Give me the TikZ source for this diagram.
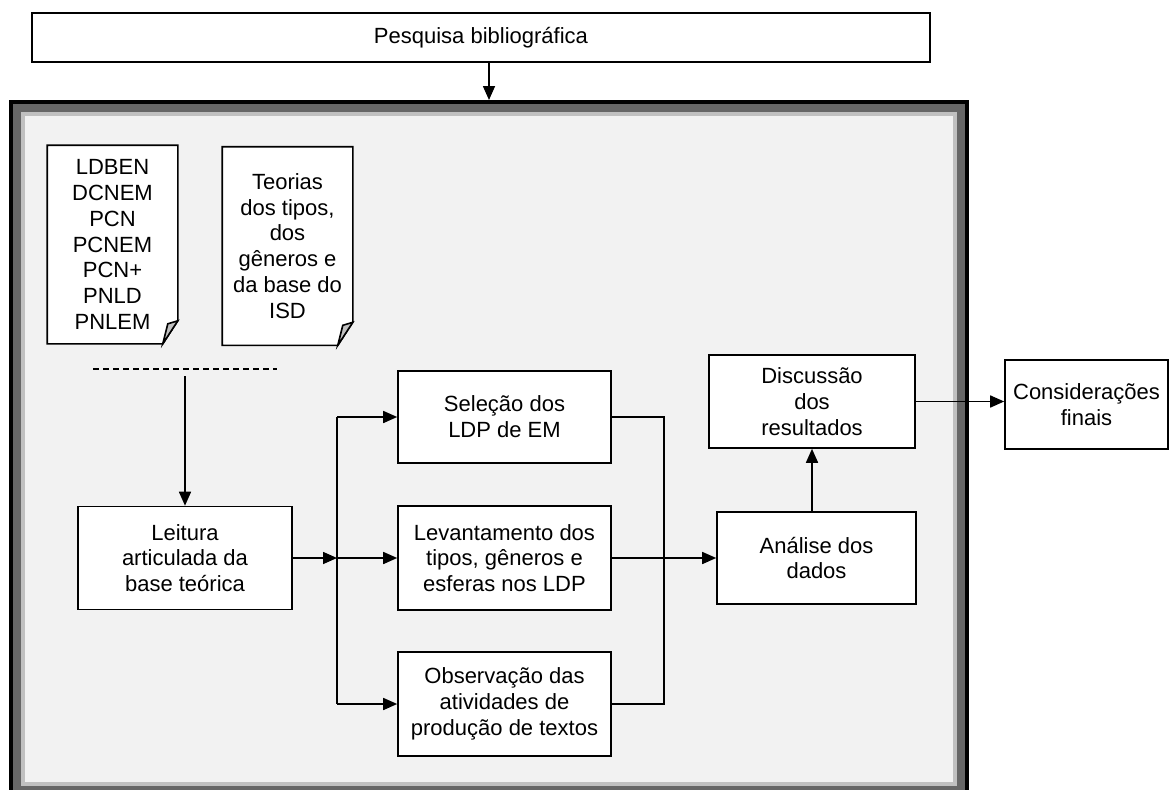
\documentclass[tikz,border=0pt]{standalone}
\usepackage{fontspec}
\setmainfont{Liberation Sans}
\usetikzlibrary{arrows.meta,backgrounds}
\definecolor{frameD}{RGB}{102,102,102}
\definecolor{frameL}{RGB}{192,192,192}
\definecolor{frameF}{RGB}{242,242,242}
% sheet with a folded lower right corner, drawn round a named node
\newcommand{\docpage}[1]{%
  \filldraw[draw=black, fill=white, line width=1.6pt] (#1.north west) -- (#1.north east)
    -- ([yshift=23pt]#1.south east) -- ([xshift=-15pt]#1.south east) -- (#1.south west) -- cycle;
  \filldraw[draw=black, fill=frameL, line width=1.6pt] ([yshift=23pt]#1.south east)
    -- ([xshift=-10pt,yshift=20pt]#1.south east) -- ([xshift=-15pt]#1.south east) -- cycle;}

\begin{document}
\begin{tikzpicture}[x=1pt, y=-1pt, font=\fontsize{22}{25.8}\selectfont,
  >={Triangle[length=14pt,width=12pt]}, line width=1.6pt,
  bx/.style={rectangle, draw, fill=white, align=center, inner sep=2pt},
  dc/.style={rectangle, align=center, inner sep=2pt,
             minimum width=129pt, minimum height=197pt}]
  \useasboundingbox (0,0) rectangle (1171,790);
  \node[bx, minimum width=898pt, minimum height=49pt] (pesq) at (481,37.5) {Pesquisa bibliográfica};
  \coordinate (ftop) at (489,100);
  % sources
  \node[dc] (d1) at (112.5,244.5) {LDBEN\\DCNEM\\PCN\\PCNEM\\PCN+\\PNLD\\PNLEM};
  \node[dc] (d2) at (287.5,246) {Teorias\\dos tipos,\\dos\\gêneros e\\da base do\\ISD};
  \coordinate (dl) at (93,369); \coordinate (dr) at (277,369);
  \coordinate (dm) at (185,376);
  % steps
  \node[bx, minimum width=214pt, minimum height=103pt] (lei) at (185,558) {Leitura\\articulada da\\base teórica};
  \node[bx, minimum width=213pt, minimum height=92pt] (sel) at (504.5,417) {Seleção dos\\LDP de EM};
  \node[bx, minimum width=213pt, minimum height=104pt] (lev) at (504.5,558) {Levantamento dos\\tipos, gêneros e\\esferas nos LDP};
  \node[bx, minimum width=213pt, minimum height=104pt] (obs) at (504.5,704) {Observação das\\atividades de\\produção de textos};
  \node[bx, minimum width=199pt, minimum height=92pt] (ana) at (816.5,558) {Análise dos\\dados};
  \node[bx, minimum width=206pt, minimum height=93pt] (dis) at (812,401.5) {Discussão\\dos\\resultados};
  \node[bx, minimum width=163pt, minimum height=89pt] (con) at (1086.5,404.5) {Considerações\\finais};
  \coordinate (jn) at (337,558);
  \coordinate (mg) at (664,558);
  % connectors
  \draw[->] (pesq.south -| ftop) -- (ftop);
  \draw[dash pattern=on 6pt off 4pt] (dl) -- (dr);
  \draw[->] (dm) -- (lei.north);
  \draw[->] (lei.east) -- (jn);
  \draw (jn |- sel.west) -- (jn |- obs.west);
  \draw[->] (jn |- sel.west) -- (sel.west);
  \draw[->] (jn) -- (lev.west);
  \draw[->] (jn |- obs.west) -- (obs.west);
  \draw (sel.east) -| (mg) |- (obs.east);
  \draw[->] (lev.east) -- (ana.west);
  \draw[->] (ana.north -| dis.south) -- (dis.south);
  \draw[->] (dis.east) -- (dis.east -| con.west);
  \begin{scope}[on background layer]
    \fill[black] (9,100) rectangle (969,800);
    \fill[frameD] (13,103.5) rectangle (965,800);
    \fill[frameL] (21,112) rectangle (957,786);
    \fill[frameF] (25,115.5) rectangle (953,782);
    \docpage{d1}
    \docpage{d2}
  \end{scope}
\end{tikzpicture}
\end{document}
